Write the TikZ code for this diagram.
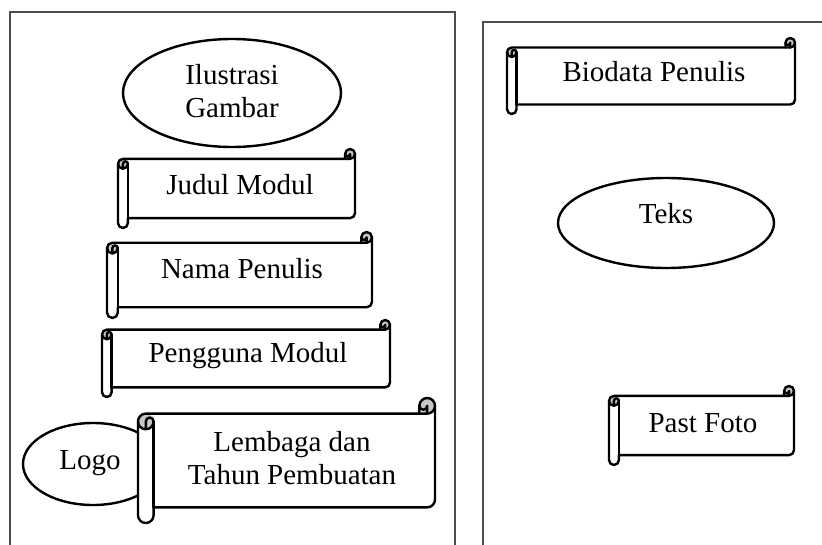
\documentclass[tikz,border=0pt]{standalone}
\usepackage{fontspec}
\setmainfont{Liberation Serif}
\usetikzlibrary{shapes.geometric}
\tikzset{
  lbl/.style={font=\fontsize{29}{33}\selectfont, align=center, inner sep=0pt, text=black},
  panel/.style={draw=black!70, line width=1.1pt},
  ell/.style={draw=black, line width=2.4pt, fill=white, ellipse, inner sep=0pt},
  scrollline/.style={draw=black, line width=2.4pt, line join=round, line cap=round},
  curlfill/.style={fill=black!22},
}
\newcommand{\hscroll}[4]{%
  \pgfmathsetmacro\sW{#3-#1}%
  \pgfmathsetmacro\sH{#4-#2}%
  \pgfmathsetmacro\sC{min(\sW,\sH)/8}%
  \pgfmathsetmacro\sCh{\sC/2}%
  \pgfmathsetmacro\sCq{\sC/4}%
  \pgfmathsetmacro\sXc{\sW-\sC}%
  \pgfmathsetmacro\sXd{\sW-\sCh}%
  \pgfmathsetmacro\sYc{\sC+\sCh}%
  \pgfmathsetmacro\sYd{2*\sC}%
  \pgfmathsetmacro\sYf{\sH-\sC}%
  \pgfmathsetmacro\sYg{\sH-\sCh}%
  \pgfmathsetmacro\sYe{\sYf-\sCh}%
  \begin{scope}[shift={(#1,#2)}]
    \fill[white] (\sW,\sCh) arc[start angle=0,delta angle=90,radius=\sCh] -- (\sXc,\sC) -- (\sCh,\sC)
      arc[start angle=270,delta angle=-90,radius=\sCh] -- (0,\sYg)
      arc[start angle=180,delta angle=-180,radius=\sCh] -- (\sC,\sYf) -- (\sXd,\sYf)
      arc[start angle=90,delta angle=-90,radius=\sCh] -- cycle;
    \fill[curlfill] (\sXd,\sCh) circle[radius=\sCh];
    \fill[curlfill] (\sCh,\sYc) circle[radius=\sCh];
    \draw[scrollline] (0,\sYc) arc[start angle=180,delta angle=90,radius=\sCh] -- (\sXc,\sC) -- (\sXc,\sCh)
      arc[start angle=180,delta angle=180,radius=\sCh] -- (\sW,\sYe)
      arc[start angle=0,delta angle=90,radius=\sCh] -- (\sC,\sYf) -- (\sC,\sYg)
      arc[start angle=0,delta angle=180,radius=\sCh] -- cycle;
    \draw[scrollline] (\sXc,\sC) -- (\sXd,\sC) arc[start angle=90,delta angle=-90,radius=\sCh];
    \draw[scrollline] (\sXd,\sC) -- (\sXd,\sCh) arc[start angle=0,delta angle=180,radius=\sCq];
    \draw[scrollline] (\sCh,\sYd) -- (\sCh,\sYc) arc[start angle=180,delta angle=180,radius=\sCq]
      arc[start angle=0,delta angle=180,radius=\sCh];
    \draw[scrollline] (\sC,\sYc) -- (\sC,\sYf);
  \end{scope}}
\begin{document}
\begin{tikzpicture}[x=1pt,y=-1pt]
  \useasboundingbox (0,0) rectangle (822,544);
  \clip (0,0) rectangle (822,544);
  % panels
  \draw[panel] (10,12) rectangle (455,570);
  \draw[panel] (483,22) rectangle (850,570);
  % left panel
  \node[ell, minimum width=218pt, minimum height=108pt] (ilusE) at (232,93) {};
  \hscroll{118}{149}{355}{228}
  \hscroll{107}{232}{372}{318}
  \hscroll{102}{320}{390}{397}
  \node[ell, minimum width=140pt, minimum height=82pt] (logoE) at (93,464) {};
  \hscroll{138}{398}{435}{523}
  % right panel
  \hscroll{507}{38}{795}{114}
  \node[ell, minimum width=216pt, minimum height=90pt] (teksE) at (666,223) {};
  \hscroll{609}{386}{794}{465}
  % texts
  \node[lbl] (ilus) at (232,91) {Ilustrasi\\Gambar};
  \node[lbl] (judul) at (240,185) {Judul Modul};
  \node[lbl] (nama) at (242,269) {Nama Penulis};
  \node[lbl] (pengguna) at (248,356) {Pengguna Modul};
  \node[lbl] (logo) at (90,463) {Logo};
  \node[lbl] (lembaga) at (292,458) {Lembaga dan\\Tahun Pembuatan};
  \node[lbl] (bio) at (654,72) {Biodata Penulis};
  \node[lbl] (teks) at (666,214) {Teks};
  \node[lbl] (foto) at (703,423) {Past Foto};
\end{tikzpicture}
\end{document}
